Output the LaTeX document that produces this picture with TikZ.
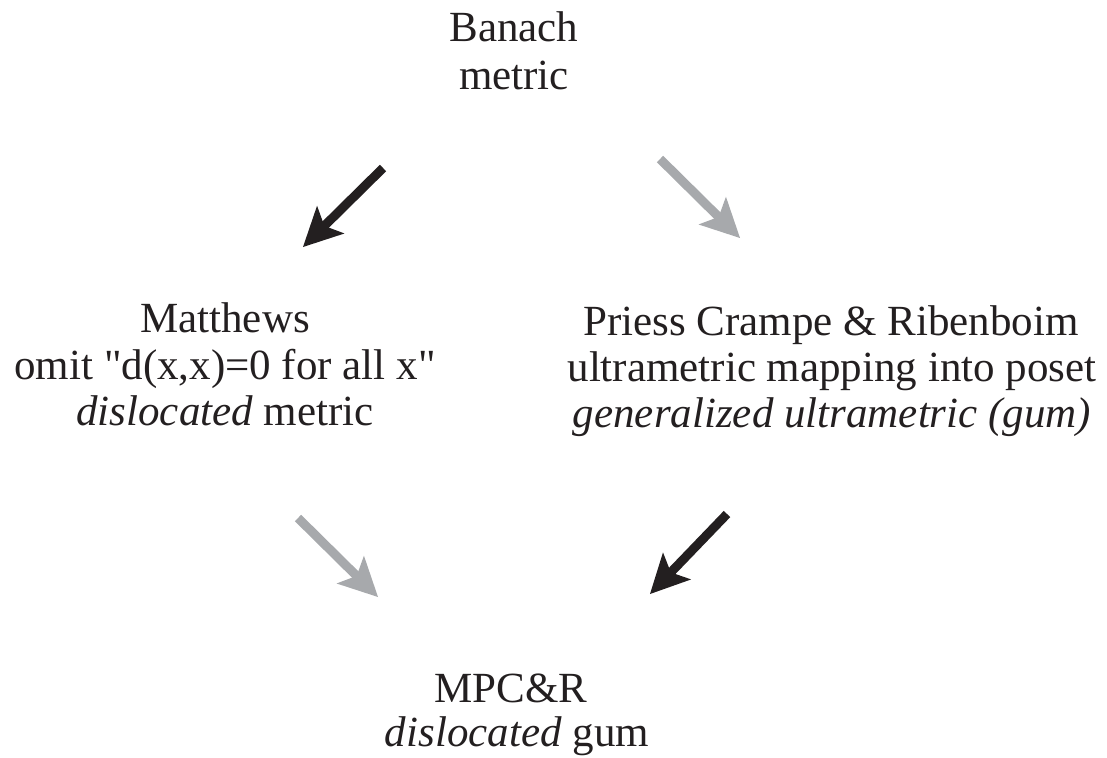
\documentclass[tikz,border=0pt]{standalone}
\usepackage{fontspec}
\setmainfont{Liberation Serif}[Ligatures=TeXOff]
\usetikzlibrary{arrows.meta}
\definecolor{ink}{HTML}{231F20}
\definecolor{greyarrow}{HTML}{A7A9AC}
\tikzset{
  txt/.style={anchor=base, inner sep=0pt, text=ink, font=\fontsize{43}{47}\selectfont},
  bigarrow/.style={line width=9pt, -{Stealth[length=39pt, width=39pt, inset=9pt, line width=0pt]}},
  blackarrow/.style={bigarrow, draw=ink, fill=ink},
  greyarrow/.style={bigarrow, draw=greyarrow, fill=greyarrow},
}
\begin{document}
\begin{tikzpicture}[x=1pt,y=-1pt]
\useasboundingbox (0,0) rectangle (1107,757);
% top
\node[txt] (banach1) at (514,42) {Banach};
\node[txt] (banach2) at (514,90) {metric};
% left
\node[txt] (matt1) at (225,332) {Matthews};
\node[txt] (matt2) at (225,379) {omit "d(x,x)=0 for all x"};
\node[txt] (matt3) at (225,425) {\textit{dislocated} metric};
% right
\node[txt] (pcr1) at (831,335) {Priess Crampe \& Ribenboim};
\node[txt] (pcr2) at (832,381) {ultrametric mapping into poset};
\node[txt] (pcr3) at (832,427) {\textit{generalized ultrametric (gum)}};
% bottom
\node[txt] (mpc1) at (511,702) {MPC\&R};
\node[txt] (mpc2) at (517,746) {\textit{dislocated} gum};
% arrow endpoints
\coordinate (a1s) at (383,168); \coordinate (a1e) at (303,247);
\coordinate (a2s) at (660,159); \coordinate (a2e) at (740,238);
\coordinate (a3s) at (298,518); \coordinate (a3e) at (378,597);
\coordinate (a4s) at (727,514); \coordinate (a4e) at (650,594);
\draw[blackarrow] (a1s) -- (a1e);
\draw[greyarrow] (a2s) -- (a2e);
\draw[greyarrow] (a3s) -- (a3e);
\draw[blackarrow] (a4s) -- (a4e);
\end{tikzpicture}
\end{document}
